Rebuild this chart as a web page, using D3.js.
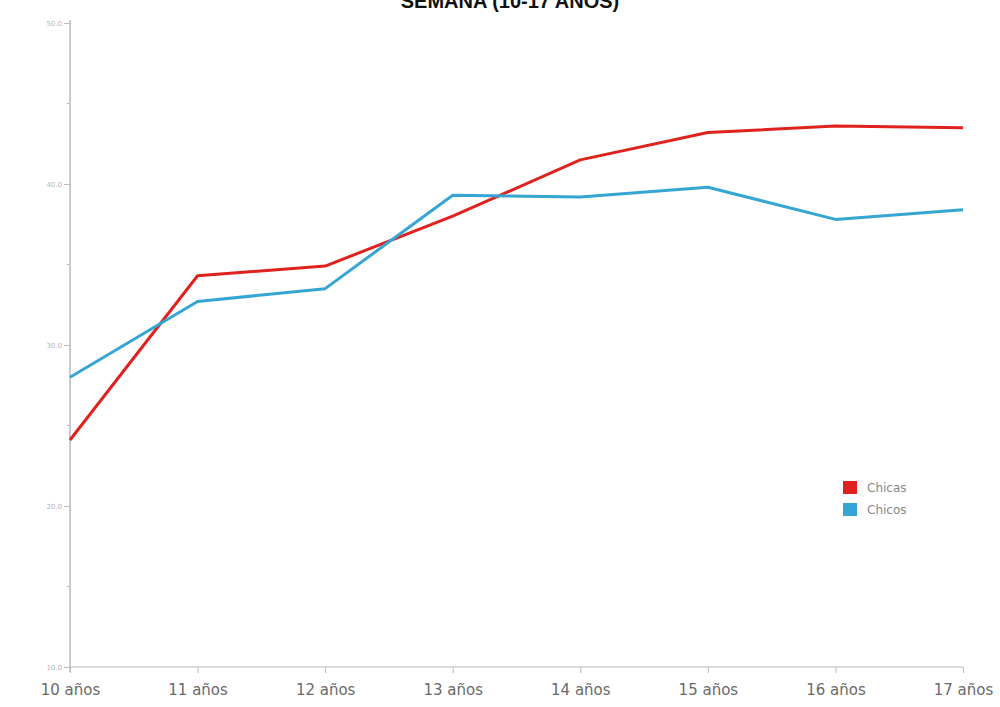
<!DOCTYPE html>
<html>
<head>
<meta charset="utf-8">
<script src="https://cdn.jsdelivr.net/npm/d3@7"></script>
<style>
  html, body { margin: 0; padding: 0; background: #fff; }
  svg { display: block; }
</style>
</head>
<body>
<svg id="chart" width="1000" height="707"></svg>
<script>
// Age groups along the x axis
const categories = ["10 años", "11 años", "12 años", "13 años", "14 años", "15 años", "16 años", "17 años"];
// Series values per age group
const chicas = [24.1, 34.3, 34.9, 38.0, 41.5, 43.2, 43.6, 43.5];
const chicos = [28.0, 32.7, 33.5, 39.3, 39.2, 39.8, 37.8, 38.4];
const seriesNames = ["Chicas", "Chicos"];
const seriesColors = ["#e0221f", "#35a6d4"];
// Y axis ticks
const yMajorTicks = [10, 20, 30, 40, 50];
const yMinorTicks = [15, 25, 35, 45];
const title = "SEMANA (10-17 AÑOS)";

const svg = d3.select("#chart");
const x = d3.scalePoint().domain(categories).range([70, 963]);
const y = d3.scaleLinear().domain([10, 50]).range([667, 23]);

// Title (runs off the top edge)
svg.append("text")
  .attr("x", 510).attr("y", 8)
  .attr("text-anchor", "middle")
  .attr("font-family", "Liberation Sans, Arial, sans-serif")
  .attr("font-weight", "bold")
  .attr("font-size", 20)
  .attr("fill", "#111")
  .text(title);

// Y axis
const yAxis = svg.append("g").attr("transform", "translate(70,0)")
  .call(d3.axisLeft(y).tickValues(yMajorTicks).tickFormat(d3.format(".1f")).tickSize(6).tickPadding(2));
yAxis.select(".domain").attr("stroke", "#c9c9cf").attr("stroke-width", 2)
  .attr("d", `M0,20V672`);
yAxis.selectAll(".tick line").attr("stroke", "#bbb");
yAxis.selectAll(".tick text")
  .attr("font-family", "DejaVu Sans, sans-serif")
  .attr("font-size", 7).attr("fill", "#b5b5b5");
svg.append("g").attr("transform", "translate(70,0)")
  .selectAll("line").data(yMinorTicks).join("line")
  .attr("x1", -3).attr("x2", 0)
  .attr("y1", d => y(d)).attr("y2", d => y(d))
  .attr("stroke", "#bbb");

// X axis
const xAxis = svg.append("g").attr("transform", "translate(0,667)")
  .call(d3.axisBottom(x).tickSize(6).tickPadding(11));
xAxis.select(".domain").attr("stroke", "#b8b8b8").attr("stroke-width", 1.2)
  .attr("d", "M70,0H963");
xAxis.selectAll(".tick line").attr("stroke", "#bbb");
xAxis.selectAll(".tick text")
  .attr("font-family", "DejaVu Sans, sans-serif")
  .attr("font-size", 15).attr("fill", "#6a6a6a");

// Lines
const line = d3.line().x((d, i) => x(categories[i])).y(d => y(d));
[chicas, chicos].forEach((vals, k) => {
  svg.append("path")
    .datum(vals)
    .attr("d", line)
    .attr("fill", "none")
    .attr("stroke", seriesColors[k])
    .attr("stroke-width", 3)
    .attr("stroke-linejoin", "round");
});

// Legend
const legend = svg.append("g").attr("transform", "translate(843,481)");
seriesNames.forEach((name, k) => {
  const g = legend.append("g").attr("transform", `translate(0,${k * 22})`);
  g.append("rect").attr("width", 14).attr("height", 13).attr("fill", seriesColors[k]);
  g.append("text").attr("x", 24).attr("y", 11)
    .attr("font-family", "DejaVu Sans, sans-serif")
    .attr("font-size", 12).attr("fill", "#888")
    .text(name);
});
</script>
</body>
</html>
